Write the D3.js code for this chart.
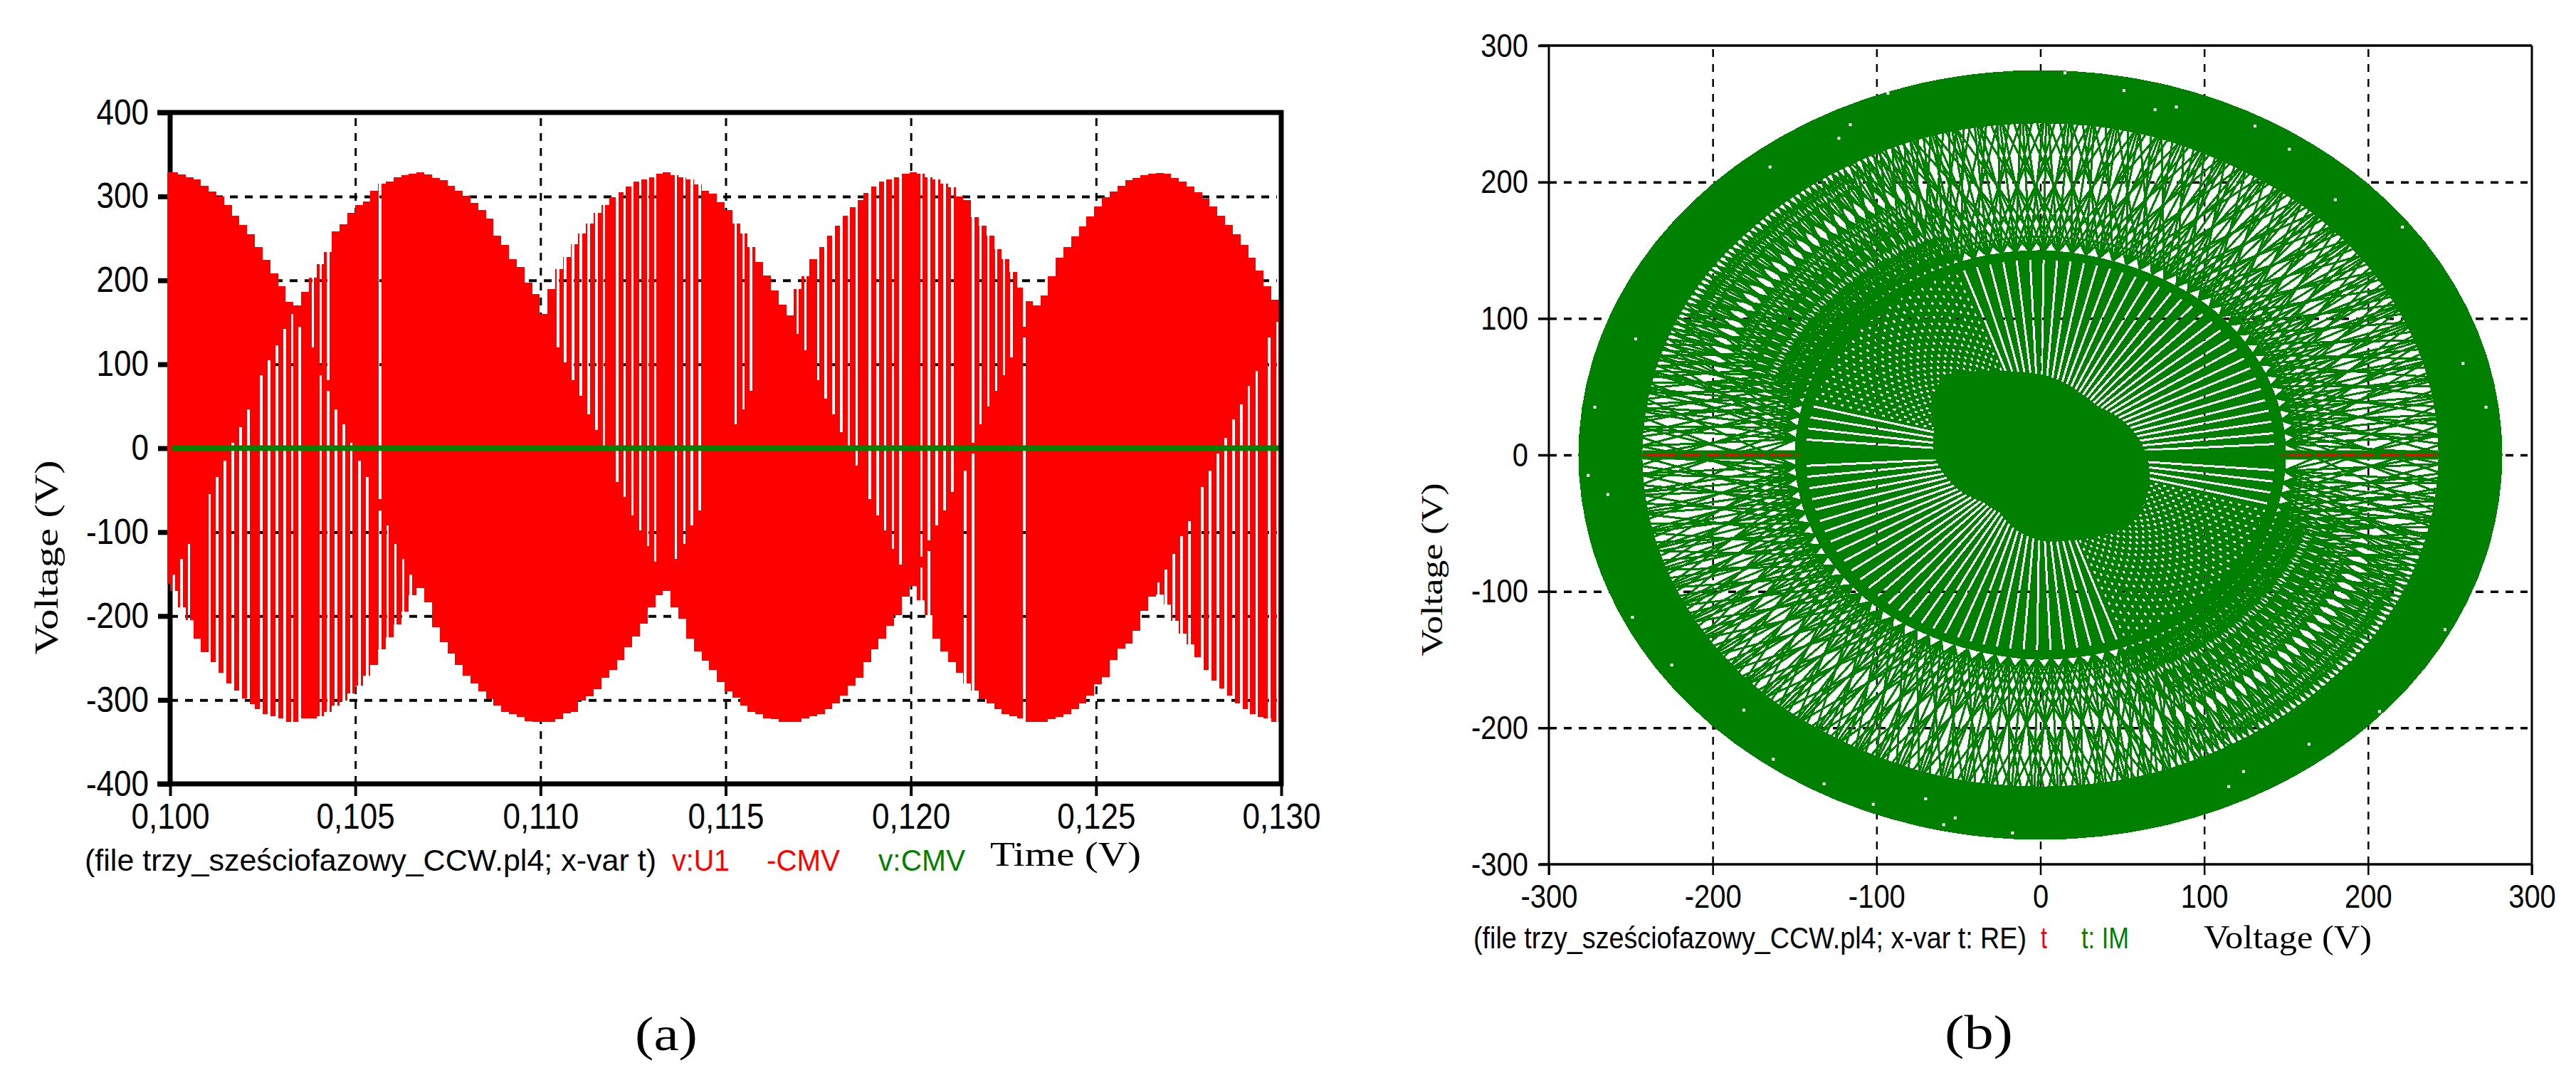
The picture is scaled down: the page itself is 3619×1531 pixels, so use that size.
<!DOCTYPE html>
<html>
<head>
<meta charset="utf-8">
<script src="https://d3js.org/d3.v7.min.js"></script>
<style>
    body { margin: 0; background: #fff; }
    .sans { font-family: "Liberation Sans", Arial, sans-serif; }
    .serif { font-family: "Liberation Serif", "Times New Roman", serif; }
</style>
</head>
<body>
<script>
// Data
// =================================

// (a) tick values and labels
var timeTicks = [100, 105, 110, 115, 120, 125, 130];
var timeLabels = ["0,100", "0,105", "0,110", "0,115", "0,120", "0,125", "0,130"];
var voltTicksA = [-400, -300, -200, -100, 0, 100, 200, 300, 400];
var voltLabelsA = ["-400", "-300", "-200", "-100", "0", "100", "200", "300", "400"];

// (a) v:U1 - CMV, top and bottom of the pulse train, one value per switching pulse (volts)
var pulseStart = 99.898;
var pulseStep = 0.2079;
var pulseTop = [329,
    329, 326, 323, 320, 313, 306, 300, 290, 277, 266, 255, 240, 224, 208, 193, 174, 170, 186, 203, 219,
    234, 258, 267, 280, 290, 294, 307, 315, 318, 323, 325, 327, 329, 326, 322, 319, 313, 307, 301, 292,
    284, 274, 253, 242, 225, 216, 197, 184, 160,
    190, 213, 228, 243, 256, 268, 280, 290, 299, 305, 312, 318, 320, 323, 327, 329, 325, 323, 320, 314,
    307, 303, 293, 284, 268, 256, 240, 222, 206, 188, 171, 158, 190, 205, 225, 240, 253, 265, 277, 287,
    296, 304, 312, 318, 320, 323, 327, 329,
    327, 323, 320, 315, 311, 300, 296, 275, 265, 253, 237, 225, 210, 191, 175, 170, 182, 205, 227, 240,
    252, 264, 276, 288, 299, 306, 313, 319, 322, 325, 327, 328, 327, 322, 318, 312, 305, 297, 288, 277,
    266, 255, 242, 227, 212, 193, 177, 160];
var pulseBottom = [-162,
    -170, -190, -205, -227, -243, -255, -268, -280, -289, -298, -305, -311, -317, -319, -322, -326, -326, -322, -322, -319,
    -314, -307, -301, -292, -283, -271, -258, -240, -225, -210, -195, -175, -167, -184, -213, -231, -245, -258, -271, -280,
    -290, -299, -307, -314, -317, -320, -325, -326, -326,
    -326, -323, -316, -314, -301, -296, -287, -274, -264, -252, -237, -224, -209, -190, -175, -170, -190, -203, -227, -242,
    -253, -264, -279, -290, -297, -307, -314, -317, -322, -323, -326, -326, -326, -322, -319, -317, -311, -304, -295, -283,
    -274, -255, -240, -227, -212, -199, -177, -164,
    -181, -199, -227, -242, -255, -268, -280, -289, -299, -304, -311, -317, -319, -322, -326, -326, -326, -323, -320, -317,
    -311, -304, -295, -281, -273, -252, -239, -233, -218, -194, -177, -174, -186, -206, -221, -234, -249, -264, -277, -286,
    -295, -304, -311, -317, -320, -322, -326, -326];

// (a) white notches between the pulses: time (ms) and the voltage span they cover
var notchTime = [
    100.10, 100.31, 100.51, 101.07, 101.27, 101.48, 101.69, 101.90, 102.11, 102.46, 102.67, 102.88, 103.09, 103.30, 103.50,
    104.06, 104.27, 104.48, 104.69, 104.89, 105.11, 105.32, 105.67, 105.87, 106.08, 106.29, 106.50,
    103.85, 104.06, 104.27, 105.67,
    110.47, 110.67, 110.88, 111.09, 111.30, 111.51, 111.71, 112.07, 112.27, 112.48, 112.69, 112.90, 113.10, 113.66, 113.88,
    114.09, 114.30, 115.27, 115.48, 115.68, 116.94, 117.15, 117.50, 117.70, 117.91, 118.12, 118.33, 118.54, 118.89, 119.10,
    119.31, 119.52, 119.72,
    120.28, 120.28, 120.49, 120.49, 120.70, 120.91, 121.12, 121.47, 121.68, 121.68, 121.88, 122.09, 122.30, 122.51, 122.72,
    123.06, 123.06,
    126.69, 126.89, 127.10, 127.31, 127.52, 127.87, 128.08, 128.29, 128.50, 128.71, 128.92, 129.13, 129.34, 129.67, 129.89];
var notchHigh = [
    -151, -132, -114, -55, -34, -15, 6, 25, 46, 87, 105, 123, 142, 160, 145,
    87, 68, 46, 28, 6, -15, -34, -74, -92, -114, -132, -151,
    400, 400, 400, 400,
    400, 400, 400, 400, 400, 400, 400, 400, 400, 400, 400, 400, 400, 400, 400,
    400, 400, 400, 400, 400, 400, 400, 400, 400, 400, 400, 400, 400, 400, 400,
    400, 400, 400,
    400, -142, 400, -123, 400, 400, 400, -27, 400, -6, 400, 400, 400, 400, 400,
    400, 132,
    -160, -145, -126, -105, -87, -46, -27, -6, 12, 34, 52, 74, 92, 132, 151];
var notchLow = [
    -400, -400, -400, -400, -400, -400, -400, -400, -400, -400, -400, -400, -400, -400, -400,
    -400, -400, -400, -400, -400, -400, -400, -400, -400, -400, -400, -400,
    120, 99, 81, -61,
    120, 102, 81, 62, 40, 22, 3, -40, -58, -80, -98, -117, -135, -132, -114,
    -92, -74, 28, 46, 68, 136, 117, 81, 59, 40, 19, 2, -21, -61, -80,
    -98, -120, -139,
    -129, -400, -110, -400, -92, -74, -52, -400, 6, -400, 28, 50, 68, 87, 108,
    145, -400,
    -400, -400, -400, -400, -400, -400, -400, -400, -400, -400, -400, -400, -400, -400, -400];

// (b) tick values and labels
var voltTicksB = [-300, -200, -100, 0, 100, 200, 300];
var voltLabelsB = ["-300", "-200", "-100", "0", "100", "200", "300"];

// (b) outline radii of the locus, one value every 15 degrees starting at 0 (volts)
var edgeAngles = [0, 15, 30, 45, 60, 75, 90, 105, 120, 135, 150, 165, 180, 195, 210, 225, 240, 255, 270, 285, 300, 315, 330, 345];
var outerEdge = [282, 282, 282, 282, 282, 282, 282, 282, 282, 282, 282, 282, 282, 282, 282, 282, 282, 282, 282, 282, 282, 282, 282, 282];
var ringInner = [243, 243, 243, 243, 242, 243, 243, 243, 242, 242, 243, 243, 243, 243, 243, 243, 242, 243, 243, 243, 242, 242, 243, 243];
var bandOuter = [150, 150, 150, 150, 149, 149, 150, 150, 150, 151, 151, 150, 150, 150, 150, 150, 149, 149, 150, 150, 150, 151, 151, 150];
var hubEdge = [60, 55, 50, 45, 46, 50, 54, 58, 66, 78, 72, 62, 60, 55, 50, 44, 44, 52, 58, 60, 64, 70, 68, 64];

// (b) directions of the switching lines over half a turn, the other half is point symmetric (degrees)
var spokeAngles = [
    3.2, 6.4, 9.8, 13.1, 16.3, 19.8, 23.1, 26.4, 29.6, 33.0, 36.3, 39.7, 42.9, 46.2, 49.6, 52.9, 56.1, 59.5, 62.8, 66.0,
    69.4, 72.7, 76.0, 79.3, 82.6, 85.9, 89.2, 92.5, 95.8, 99.1, 102.4, 105.7, 109.0,
    111.1, 113.0, 114.9, 116.9, 118.8, 120.7, 122.7, 124.6, 126.5, 128.5, 130.4, 132.4, 134.3, 136.2, 138.2, 140.1, 142.0,
    144.0, 145.9, 147.8, 149.8, 151.7, 153.7, 155.6, 157.5, 159.5, 161.4, 163.3,
    165.6, 168.9, 172.2, 175.5];
var chordOffsets = [-13, -8, -3, 0, 3, 8, 13];
// sector where the inner lines look dotted instead of solid
var dottedFrom = 110;
var dottedTo = 165;

// (b) t series along the real axis, the dashes that stay visible (volts from the centre)
var redFrom = [147, 149, 152, 156, 161.5, 168, 173, 184, 195, 207, 222, 241.5];
var redTo = [148, 150, 155, 160, 165.5, 172, 182, 193, 204, 219, 240, 242.7];

// (b) small white specks inside the solid outer ring
var speckX = [15, 51, 70, 83, 131, 152, 180, 221, -116, -123, -165, -93, -247, -272, -276, -264, 272, 258,
    -17, -70, -102, -132, -163, -181, -225, -249, 164, 124, 115, 207, 247, -52, -59];
var speckY = [280, 267, 253, 255, 241, 224, 187, 167, 242, 232, 211, 265, 85, 35, -15, -29, 35, 67,
    -277, -252, -256, -241, -223, -187, -154, -119, -212, -232, -243, -188, -128, -266, -271];

// Set up the page
// =================================
var svgWidth = 3619;
var svgHeight = 1531;

var green = "#008000";
var red = "#ff0000";

var svg = d3.select("body")
    .append("svg")
    .attr("width", svgWidth)
    .attr("height", svgHeight)
    .style("display", "block");

var defs = svg.append("defs");

// squeeze a text element to the narrow look of the screenshot
function squeeze(selection, factor) {
    selection.each(function () {
        var length = this.getComputedTextLength();
        this.setAttribute("textLength", length * factor);
        this.setAttribute("lengthAdjust", "spacingAndGlyphs");
    });
}

// free text stretched to a measured width
function addText(x, y, str, cls, size, color, width) {
    var t = svg.append("text")
        .attr("class", cls)
        .attr("x", x)
        .attr("y", y)
        .attr("font-size", size)
        .attr("fill", color)
        .attr("dominant-baseline", "middle")
        .text(str);
    if (width) {
        t.attr("textLength", width).attr("lengthAdjust", "spacingAndGlyphs");
    }
    return t;
}

function addMask(id) {
    var mask = defs.append("mask")
        .attr("id", id)
        .attr("maskUnits", "userSpaceOnUse")
        .attr("x", 0)
        .attr("y", 0)
        .attr("width", svgWidth)
        .attr("height", svgHeight);
    mask.append("rect")
        .attr("width", svgWidth)
        .attr("height", svgHeight)
        .attr("fill", "white");
    return mask;
}

// draws dashed grid, tick marks and tick labels for one panel
function drawAxes(x, y, xTicks, xLabels, yTicks, yLabels, opt) {
    var left = x.range()[0];
    var right = x.range()[1];
    var bottom = y.range()[0];
    var top = y.range()[1];

    var gridX = svg.append("g")
        .attr("transform", `translate(0, ${bottom})`)
        .call(d3.axisBottom(x)
            .tickValues(xTicks.slice(1, -1))
            .tickSize(top - bottom)
            .tickFormat(""));
    gridX.select(".domain").remove();
    gridX.selectAll("text").remove();
    gridX.selectAll("line")
        .attr("stroke", "#000")
        .attr("stroke-width", opt.gridXWidth)
        .attr("stroke-dasharray", "11 10");

    var gridY = svg.append("g")
        .attr("transform", `translate(${left}, 0)`)
        .call(d3.axisLeft(y)
            .tickValues(yTicks.slice(1, -1))
            .tickSize(left - right + 6)
            .tickFormat(""));
    gridY.select(".domain").remove();
    gridY.selectAll("text").remove();
    gridY.selectAll("line")
        .attr("stroke", "#000")
        .attr("stroke-width", opt.gridYWidth)
        .attr("stroke-dasharray", "11 10");

    var axisX = svg.append("g")
        .attr("transform", `translate(0, ${bottom})`)
        .call(d3.axisBottom(x)
            .tickValues(xTicks)
            .tickSize(opt.tickLength)
            .tickPadding(opt.xPad)
            .tickFormat((d, i) => xLabels[i]));
    axisX.select(".domain").remove();
    axisX.selectAll("line").attr("stroke", "#000").attr("stroke-width", opt.xTickWidth);
    axisX.selectAll("text")
        .attr("class", "sans")
        .attr("font-size", opt.fontSize)
        .attr("fill", "#000")
        .call(squeeze, opt.squeeze);

    var axisY = svg.append("g")
        .attr("transform", `translate(${left}, 0)`)
        .call(d3.axisLeft(y)
            .tickValues(yTicks)
            .tickSize(opt.tickLength)
            .tickPadding(opt.yPad)
            .tickFormat((d, i) => yLabels[i]));
    axisY.select(".domain").remove();
    axisY.selectAll("line").attr("stroke", "#000").attr("stroke-width", opt.yTickWidth);
    axisY.selectAll("text")
        .attr("class", "sans")
        .attr("font-size", opt.fontSize)
        .attr("fill", "#000")
        .call(squeeze, opt.squeeze);
}

function frameLine(x1, y1, x2, y2, width) {
    svg.append("line")
        .attr("x1", x1).attr("y1", y1)
        .attr("x2", x2).attr("y2", y2)
        .attr("stroke", "#000")
        .attr("stroke-width", width);
}

// Panel (a): voltage against time
// =================================
var xA = d3.scaleLinear().domain([100, 130]).range([239, 1800]);
var yA = d3.scaleLinear().domain([-400, 400]).range([1101, 158]);

drawAxes(xA, yA, timeTicks, timeLabels, voltTicksA, voltLabelsA, {
    gridXWidth: 3, gridYWidth: 4, xTickWidth: 4, yTickWidth: 7,
    tickLength: 17, xPad: 10, yPad: 13, fontSize: 50, squeeze: 0.88
});

// left edge of the frame stays under the red pulses
frameLine(xA(100), 155, xA(100), 1104, 7);

var notchMask = addMask("notches");
notchMask.selectAll("rect.notch")
    .data(notchTime)
    .enter()
    .append("rect")
    .attr("class", "notch")
    .attr("x", d => xA(d - 0.033))
    .attr("width", d => xA(d + 0.033) - xA(d - 0.033))
    .attr("y", (d, i) => yA(notchHigh[i]))
    .attr("height", (d, i) => yA(notchLow[i]) - yA(notchHigh[i]))
    .attr("fill", "black")
    .attr("shape-rendering", "crispEdges");

defs.append("clipPath")
    .attr("id", "plotA")
    .append("rect")
    .attr("x", 235)
    .attr("y", 150)
    .attr("width", 1565)
    .attr("height", 960);

var pulseArea = d3.area()
    .x((d, i) => xA(pulseStart + i * pulseStep))
    .y0((d, i) => yA(pulseBottom[i]))
    .y1(d => yA(d))
    .curve(d3.curveStep);

svg.append("g")
    .attr("clip-path", "url(#plotA)")
    .append("g")
    .attr("mask", "url(#notches)")
    .append("path")
    .attr("d", pulseArea(pulseTop))
    .attr("fill", red)
    .attr("shape-rendering", "crispEdges");

// v:CMV sits on zero the whole time
svg.append("line")
    .attr("x1", xA(100.05))
    .attr("x2", xA(130))
    .attr("y1", yA(0))
    .attr("y2", yA(0))
    .attr("stroke", green)
    .attr("stroke-width", 8);

frameLine(221, yA(400), 1803, yA(400), 7);
frameLine(221, yA(-400), 1803, yA(-400), 7);
frameLine(xA(130), 155, xA(130), 1104, 7);

addText(119, 1212, "(file trzy_sześciofazowy_CCW.pl4; x-var t)", "sans", 42, "#000", 803);
addText(944, 1212, "v:U1", "sans", 42, red, 81);
addText(1077, 1212, "-CMV", "sans", 42, red, 103);
addText(1234, 1212, "v:CMV", "sans", 42, green, 122);
addText(1391, 1205, "Time (V)", "serif", 48, "#000", 212);

addText(0, 0, "Voltage (V)", "serif", 46, "#000", 273)
    .attr("x", null)
    .attr("y", null)
    .attr("text-anchor", "middle")
    .attr("transform", "translate(70, 783) rotate(-90)");

addText(936, 1459, "(a)", "serif", 68, "#000", 88).attr("text-anchor", "middle");

// Panel (b): complex plane locus
// =================================
var xB = d3.scaleLinear().domain([-300, 300]).range([2176, 3557]);
var yB = d3.scaleLinear().domain([-300, 300]).range([1214, 64]);

drawAxes(xB, yB, voltTicksB, voltLabelsB, voltTicksB, voltLabelsB, {
    gridXWidth: 2.5, gridYWidth: 3.5, xTickWidth: 2.5, yTickWidth: 3.5,
    tickLength: 15, xPad: 13, yPad: 14, fontSize: 47, squeeze: 0.85
});

function polar(deg, r) {
    var a = deg * Math.PI / 180;
    return [xB(r * Math.cos(a)), yB(r * Math.sin(a))];
}

// closed outline through one radius per listed angle
function outline(radii) {
    var line = d3.line().curve(d3.curveCatmullRomClosed);
    return line(radii.map((r, i) => polar(edgeAngles[i], r)));
}

var hubAt = d3.scaleLinear()
    .domain(edgeAngles.concat([360]))
    .range(hubEdge.concat([hubEdge[0]]));

var allSpokes = spokeAngles.concat(spokeAngles.map(d => d + 180));

var discMask = addMask("disc");

// open the hatched zone, then put the crossing switching lines back
discMask.append("path")
    .attr("d", outline(ringInner) + outline(bandOuter))
    .attr("fill", "black")
    .attr("fill-rule", "evenodd")
    .attr("shape-rendering", "crispEdges");

chordOffsets.forEach(function (offset) {
    discMask.selectAll(null)
        .data(allSpokes)
        .enter()
        .append("path")
        .attr("d", d => d3.line()([polar(d, 149), polar(d + offset, 246)]))
        .attr("stroke", "white")
        .attr("stroke-width", 3)
        .attr("shape-rendering", "crispEdges");
});

// thin radial slits between the hub and the r=150 band
function isDotted(d) {
    var a = d % 180;
    return a > dottedFrom && a < dottedTo;
}

discMask.selectAll(null)
    .data(allSpokes)
    .enter()
    .append("path")
    .attr("d", d => d3.line()([polar(d, 143), polar(d, hubAt(d) + 5)]))
    .attr("stroke", "black")
    .attr("stroke-width", d => isDotted(d) ? 2.6 : 3)
    .attr("stroke-dasharray", d => isDotted(d) ? "4 8" : null)
    .attr("stroke-dashoffset", (d, i) => i * 5)
    .attr("shape-rendering", "crispEdges");

// the band around the real axis stays solid
discMask.append("line")
    .attr("x1", xB(-243))
    .attr("x2", xB(243))
    .attr("y1", yB(0))
    .attr("y2", yB(0))
    .attr("stroke", "white")
    .attr("stroke-width", 13);

discMask.selectAll("rect.speck")
    .data(speckX)
    .enter()
    .append("rect")
    .attr("class", "speck")
    .attr("x", d => xB(d) - 2)
    .attr("y", (d, i) => yB(speckY[i]) - 2)
    .attr("width", 4)
    .attr("height", 4)
    .attr("fill", "black");

svg.append("path")
    .attr("d", outline(outerEdge))
    .attr("fill", green)
    .attr("mask", "url(#disc)")
    .attr("shape-rendering", "crispEdges");

// t: the red trace along the real axis, both sides of the centre
[-1, 1].forEach(function (side) {
    svg.selectAll(null)
        .data(redFrom)
        .enter()
        .append("line")
        .attr("x1", d => xB(side * d))
        .attr("x2", (d, i) => xB(side * redTo[i]))
        .attr("y1", yB(0))
        .attr("y2", yB(0))
        .attr("stroke", red)
        .attr("stroke-width", 3);
});

frameLine(2163, yB(300), xB(300), yB(300), 3.5);
frameLine(2163, yB(-300), xB(300), yB(-300), 3.5);
frameLine(xB(-300), yB(300), xB(-300), yB(-300) + 15, 3);
frameLine(xB(300), yB(300), xB(300), yB(-300) + 15, 3);

addText(2070, 1321, "(file trzy_sześciofazowy_CCW.pl4; x-var t: RE)", "sans", 42, "#000", 777);
addText(2867, 1321, "t", "sans", 42, red, 9);
addText(2924, 1321, "t: IM", "sans", 42, green, 67);
addText(3096, 1321, "Voltage (V)", "serif", 46, "#000", 236);

addText(0, 0, "Voltage (V)", "serif", 42, "#000", 243)
    .attr("x", null)
    .attr("y", null)
    .attr("text-anchor", "middle")
    .attr("transform", "translate(2016, 800) rotate(-90)");

addText(2780, 1457, "(b)", "serif", 68, "#000", 96).attr("text-anchor", "middle");
</script>
</body>
</html>
